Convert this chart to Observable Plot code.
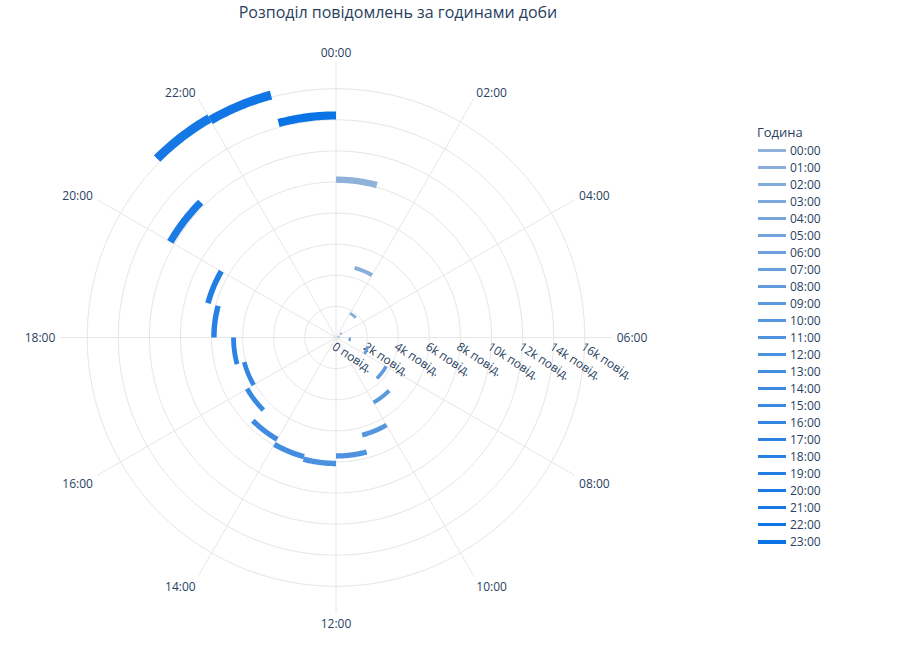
<!DOCTYPE html>
<html lang="uk">
<head>
<meta charset="UTF-8">
<title>Розподіл повідомлень за годинами доби</title>
<script src="https://cdn.jsdelivr.net/npm/d3@7"></script>
<script src="https://cdn.jsdelivr.net/npm/@observablehq/plot@0.6"></script>
<style>
  body { margin: 0; background: #fff; font-family: "Open Sans", verdana, arial, sans-serif; color: #2a3f5f; }
  #wrap { position: relative; width: 915px; height: 655px; }
  #title { position: absolute; top: 1px; left: 398px; transform: translateX(-50%); font-size: 16px; white-space: nowrap; }
  #legend { position: absolute; left: 757px; top: 123px; font-size: 12px; }
  #legend .t { font-size: 13px; height: 19px; line-height: 18px; }
  .item { display: flex; align-items: center; height: 17px; }
  .item .sw { width: 28px; margin: 0 4px 0 1px; }
</style>
</head>
<body>
<div id="wrap">
  <div id="chart"></div>
  <div id="title">Розподіл повідомлень за годинами доби</div>
  <div id="legend"></div>
</div>
<script>
// data
const hours = ["00:00", "01:00", "02:00", "03:00", "04:00", "05:00", "06:00", "07:00",
  "08:00", "09:00", "10:00", "11:00", "12:00", "13:00", "14:00", "15:00",
  "16:00", "17:00", "18:00", "19:00", "20:00", "21:00", "22:00", "23:00"];
const counts = [10150, 4630, 1800, 400, 120, 200, 890, 2120,
  3720, 4830, 6500, 7620, 8100, 7930, 7560, 6600,
  6110, 6590, 7850, 8520, 12300, 16270, 16140, 14280];
const radialTicks = [0, 2000, 4000, 6000, 8000, 10000, 12000, 14000, 16000];
const angularTicks = ["00:00", "02:00", "04:00", "06:00", "08:00", "10:00",
  "12:00", "14:00", "16:00", "18:00", "20:00", "22:00"];

const RMAX = 17750;
const rad = deg => deg * Math.PI / 180;
const px = d => d.r * Math.sin(d.a);
const py = d => d.r * Math.cos(d.a);

const colorOf = d3.interpolateRgb("#8fb1da", "#0a73e6");
const hourColors = hours.map((h, i) => colorOf(i / (hours.length - 1)));
const maxCount = d3.max(counts);

// one arc per hour, sampled every half degree
const arcs = hours.flatMap((h, i) => d3.range(0, 31).map(k => ({
  hour: h, a: rad(i * 15 + k * 0.5), r: counts[i], w: 2 + 7 * counts[i] / maxCount
})));

const circles = radialTicks.slice(1).flatMap(v => d3.range(0, 361, 2).map(deg => ({v, r: v, a: rad(deg)})));
const spokes = angularTicks.map((t, i) => ({t, r: RMAX, a: rad(i * 30)}));
const labels = angularTicks.map((t, i) => ({t, i, r: RMAX + 300, a: rad(i * 30)}));

const textStyle = {fill: "#2a3f5f", fontSize: 12};
const side = (f, opts) => Plot.text(labels.filter(f), {x: px, y: py, text: "t", ...textStyle, ...opts});

const chart = Plot.plot({
  width: 915,
  height: 655,
  marginLeft: 59.5,
  marginRight: 303.5,
  marginTop: 61,
  marginBottom: 42,
  x: {domain: [-RMAX, RMAX], axis: null},
  y: {domain: [-RMAX, RMAX], axis: null},
  color: {domain: hours, range: hourColors},
  style: {fontFamily: '"Open Sans", verdana, arial, sans-serif', overflow: "visible"},
  marks: [
    Plot.line(circles, {x: px, y: py, z: "v", stroke: "#e6e6e6", strokeWidth: 1}),
    Plot.link(spokes, {x1: 0, y1: 0, x2: px, y2: py, stroke: "#e6e6e6", strokeWidth: 1}),
    Plot.text(radialTicks, {
      x: d => d, y: 0, text: d => d === 0 ? "0 повід." : `${d / 1000}k повід.`,
      textAnchor: "start", lineAnchor: "top", rotate: 33, dx: 0, dy: 4, ...textStyle
    }),
    // angular labels, anchored by side of the circle
    side(d => d.i === 1 || d.i === 2, {textAnchor: "start", dy: -1}),
    side(d => d.i === 3, {textAnchor: "start", dy: 1}),
    side(d => d.i === 4 || d.i === 5, {textAnchor: "start", dy: 6.5}),
    side(d => d.i === 10 || d.i === 11, {textAnchor: "end", dy: -1}),
    side(d => d.i === 9, {textAnchor: "end", dy: 1}),
    side(d => d.i === 7 || d.i === 8, {textAnchor: "end", dy: 6.5}),
    side(d => d.i === 0, {lineAnchor: "bottom"}),
    side(d => d.i === 6, {lineAnchor: "top", dy: 1}),
    Plot.line(arcs, {x: px, y: py, z: "hour", stroke: "hour", strokeWidth: "w", strokeLinecap: "butt"})
  ]
});
document.querySelector("#chart").append(chart);

// legend
const legend = document.querySelector("#legend");
legend.innerHTML = `<div class="t">Година</div>` + hours.map((h, i) =>
  `<div class="item"><span class="sw" style="height:${3 + i / 23}px;background:${hourColors[i]}"></span><span>${h}</span></div>`
).join("");
</script>
</body>
</html>
